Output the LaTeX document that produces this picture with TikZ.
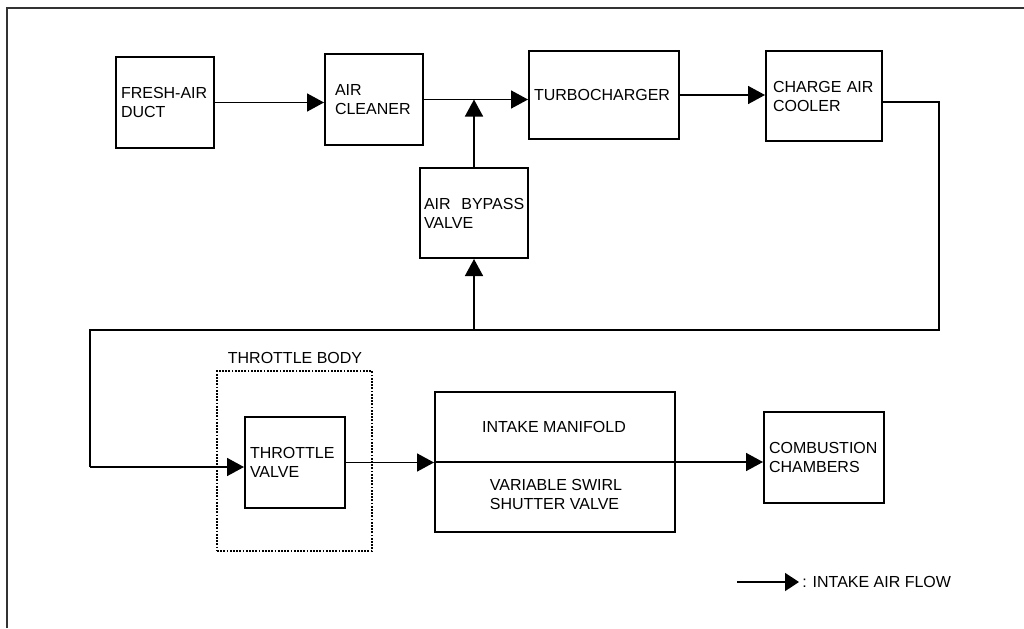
\documentclass[tikz,border=0pt]{standalone}
\usepackage{fontspec}
\setmainfont{Liberation Sans}
\usetikzlibrary{arrows.meta}
\begin{document}
\begin{tikzpicture}[x=0.75pt,y=-0.75pt,
  box/.style={draw, line width=1.5pt, rectangle, inner ysep=0pt, align=left, font=\fontsize{12}{14.25}\selectfont},
  dotbox/.style={draw, line width=1.3pt, dash pattern=on 1.3pt off 1.1pt, rectangle, inner sep=0pt},
  flow/.style={line width=1.2pt, -{Triangle[length=12.75pt,width=13.5pt]}},
  legflow/.style={line width=1.2pt, -{Triangle[length=10.5pt,width=13.5pt]}},
  wire/.style={line width=1.2pt},
  lbl/.style={inner sep=0pt, font=\fontsize{12}{14.25}\selectfont}]
\useasboundingbox (0,0) rectangle (1024,628);
% frame
\draw[line width=0.8pt, black!80] (7,628) -- (7,8) -- (1024,8);

% boxes
\node[box, minimum width=73.5pt, minimum height=68.25pt, text width=66pt, inner xsep=3.75pt] (duct) at (165,102.5) {FRESH-AIR\\DUCT};
\node[box, minimum width=73.5pt, minimum height=68.25pt, text width=58.5pt, inner xsep=7.5pt] (cleaner) at (374,99.5) {AIR\\CLEANER};
\node[box, minimum width=81pt, minimum height=67.5pt, text width=75pt, inner xsep=3pt] (bypass) at (474,213) {\mbox{AIR~~BYPASS}\\VALVE};
\node[box, minimum width=112.5pt, minimum height=66pt, text width=105pt, inner xsep=3.75pt] (turbo) at (604,95) {TURBOCHARGER};
\node[box, minimum width=87pt, minimum height=67.5pt, text width=76.5pt, inner xsep=5.25pt] (cac) at (824,96) {\mbox{CHARGE AIR}\\COOLER};
\node[box, minimum width=75pt, minimum height=68.25pt, text width=67.5pt, inner xsep=3.75pt] (tv) at (295,462.5) {\raisebox{-3pt}{\parbox{67.5pt}{THROTTLE\\VALVE}}};
\node[box, minimum width=180pt, minimum height=105pt, inner sep=0pt] (man) at (555,462) {};
\node[box, minimum width=90pt, minimum height=68.25pt, text width=82.5pt, inner xsep=3.75pt] (comb) at (824,457.5) {\mbox{COMBUSTION}\\CHAMBERS};
\node[dotbox, minimum width=116.25pt, minimum height=135pt] (tb) at (294.5,461) {};

% texts
\node[lbl] (tblabel) at (295,357.5) {THROTTLE BODY};
\node[lbl] (manA) at (554,427) {INTAKE MANIFOLD};
\node[lbl, align=left] (manB) at (556,494) {VARIABLE SWIRL\\SHUTTER VALVE};

% coordinates
\coordinate (j1) at (bypass.north |- cleaner.east);
\coordinate (c1) at (882,102);
\coordinate (c2) at (939,102);
\coordinate (c3) at (939,330);
\coordinate (j2) at (474,330);
\coordinate (c4) at (90,330);
\coordinate (c5) at (90,467);

% connectors
\draw[flow] (duct.east) -- (duct.east -| cleaner.west);
\draw[flow] (cleaner.east) -- (cleaner.east -| turbo.west);
\draw[flow] (bypass.north) -- (j1);
\draw[flow] (turbo.east) -- (turbo.east -| cac.west);
\draw[wire] (c1) -- (c2) -- (c3) -- (c4) -- (c5);
\draw[flow] (c5) -- (c5 -| tv.west);
\draw[flow] (j2) -- (bypass.south);
\draw[flow] (tv.east) -- (tv.east -| man.west);
\draw[wire] (man.west) -- (man.east);
\draw[flow] (man.east) -- (man.east -| comb.west);

% legend
\coordinate (lg1) at (737,582);
\coordinate (lg2) at (799,582);
\draw[legflow] (lg1) -- (lg2);
\node[lbl, anchor=west] (legtext) at (802,582) {: INTAKE AIR FLOW};
\end{tikzpicture}
\end{document}
